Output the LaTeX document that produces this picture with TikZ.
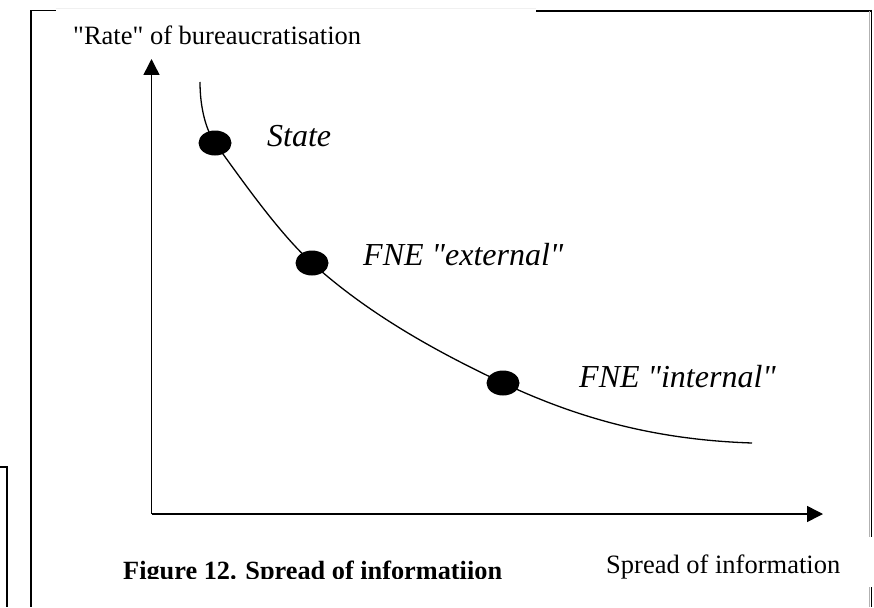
\documentclass[tikz,border=0pt]{standalone}
\usepackage{fontspec}
\setmainfont{Liberation Serif}[Ligatures=TeXOff]
\usetikzlibrary{arrows.meta,shapes.geometric}
\begin{document}
\begin{tikzpicture}[x=1pt,y=-1pt,
  lbl/.style={anchor=base west,inner sep=0pt,font=\fontsize{26.5}{30}\selectfont},
  ilbl/.style={anchor=base west,inner sep=0pt,font=\fontsize{32}{36}\selectfont\itshape},
  caplbl/.style={anchor=base west,inner sep=0pt,font=\fontsize{26.3}{30}\selectfont\bfseries},
  dot/.style={ellipse,fill=black,minimum width=33pt,minimum height=25pt,inner sep=0pt},
  axis/.style={line width=1.5pt,-{Triangle[width=16pt,length=16pt]}},
  frameline/.style={line width=1.4pt},
  curve/.style={line width=1.3pt}]
\useasboundingbox (0,0) rectangle (874,607);
% frame pieces
\draw[frameline] (55.7,10.7) -- (31,10.7) -- (31,607);
\draw[gray!12,line width=1pt] (55.7,9) -- (536,9);
\draw[line width=2.2pt] (536,11) -- (872,11);
\draw[gray!60,line width=0.9pt] (869.3,11) -- (869.3,537);
\draw[line width=1.6pt] (871.3,10) -- (871.3,537);
\draw[gray!60,line width=0.9pt] (869.3,587) -- (869.3,607);
\draw[line width=1.6pt] (871.3,587) -- (871.3,607);
\draw[frameline] (0,467) -- (7,467) -- (7,607);
% axes
\coordinate (O) at (151.5,514);
\coordinate (ytip) at (151.5,59);
\coordinate (xtip) at (823,514);
\draw[axis] (O) -- (ytip);
\draw[axis] (O) -- (xtip);
% curve
\draw[curve] (200,82) .. controls (200,108) and (206,130) .. (215,143)
  .. controls (241.5,179.4) and (278.7,232.9) .. (312,263)
  .. controls (367.5,313.3) and (435.1,351.1) .. (503,383)
  .. controls (584.5,421.3) and (662,440) .. (752,443);
% points
\node[dot] (state) at (215,143) {};
\node[dot] (ext) at (312,263) {};
\node[dot] (int) at (503,383) {};
% labels
\node[lbl] (ylab) at (73,45) {"Rate" of bureaucratisation};
\node[ilbl] (lstate) at (267,146) {State};
\node[ilbl] (lext) at (363,265) {FNE "external"};
\node[ilbl] (lint) at (579,387) {FNE "internal"};
\node[lbl] (xlab) at (606,573) {Spread of information};
\begin{scope}
\clip (100,540) rectangle (560,578);
\node[caplbl] (cap) at (123,579.5) {Figure 12. Spread of informatiion};
\end{scope}
\end{tikzpicture}
\end{document}
